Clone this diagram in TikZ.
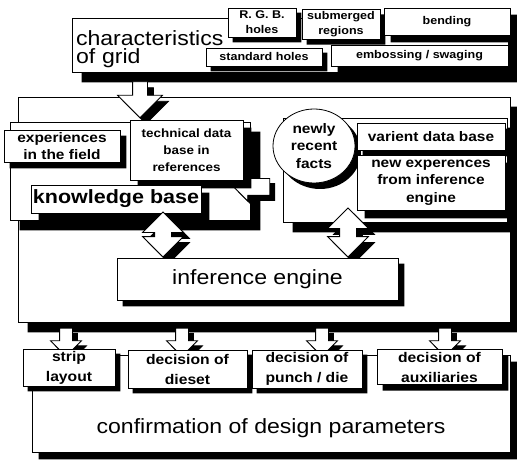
\documentclass[tikz,border=0pt]{standalone}
\usepackage{fontspec}
\setmainfont{Liberation Sans}[FakeStretch=1.12]
\usetikzlibrary{shapes.arrows, shapes.geometric, calc, positioning}

% black L-shaped shadow at the lower right of a box: node/offset
\newcommand\dropshade[2]{%
  \fill ([yshift=-#2]#1.north east) -| ([xshift=#2,yshift=-#2]#1.south east)
        -| ([xshift=#2]#1.south west) -- (#1.south east) -- cycle;}

\begin{document}
\begin{tikzpicture}[x=0.5pt, y=-0.5pt,% one unit = one pixel of the scan
  box/.style = {draw, fill=white, line width=0.4pt, inner sep=1pt,
                align=center},
  ghost/.style = {fill=black, xshift=#1, yshift=-#1},
  tinytext/.style  = {font=\bfseries\fontsize{5.6}{7.5}\selectfont},
  smalltext/.style = {font=\bfseries\fontsize{6.9}{8.8}\selectfont},
  bigtext/.style   = {font=\fontsize{10.3}{9}\selectfont},
  % block arrows: length/head width/shaft width
  downarrow/.style args = {#1/#2/#3}{single arrow, draw, fill=white,
                line width=0.4pt, shape border rotate=270,
                minimum height=#1, inner sep=#3/2,
                single arrow head extend={(#2-#3)/2}},
  leftarrow/.style args = {#1/#2/#3}{downarrow={#1/#2/#3},
                shape border rotate=180},
  twoway/.style args = {#1/#2/#3}{double arrow, draw, fill=white,
                line width=0.4pt, shape border rotate=90,
                minimum height=#1, inner sep=#3/2,
                double arrow head extend={(#2-#3)/2}},
  ]
  \useasboundingbox (0,0) rectangle (517,459);

  % characteristics of grid
  \node[box, bigtext, minimum width=218pt, minimum height=27pt,
        text width=214pt, align=left, inner sep=1.5pt,
        text height=12pt, text depth=11pt] (grid) at (290,45)
       {characteristics\\of grid};
  \dropshade{grid}{5pt}
  \node[box, tinytext, minimum width=34pt, minimum height=14.5pt]
       (rgb) at (262,22.5) {R. G. B.\\holes};
  \dropshade{rgb}{2.5pt}
  \node[box, tinytext, minimum width=39pt, minimum height=14.5pt]
       (submerged) at (341,24.5) {submerged\\regions};
  \dropshade{submerged}{2.5pt}
  \node[box, tinytext, minimum width=63pt, minimum height=13.5pt]
       (bending) at (447,21.5) {bending};
  \dropshade{bending}{3.5pt}
  \node[box, tinytext, minimum width=58pt, minimum height=9pt]
       (standard) at (264,57) {standard holes};
  \dropshade{standard}{2.5pt}
  \node[box, tinytext, minimum width=88.5pt, minimum height=10.5pt]
       (emboss) at (419.5,55.5) {embossing / swaging};
  \dropshade{emboss}{3.5pt}

  % knowledge and facts
  \node[box, minimum width=246pt, minimum height=112.5pt]
       (midbox) at (264,209.5) {};
  \dropshade{midbox}{5pt}
  \node[downarrow={18pt/22pt/7pt}, ghost=3pt] (a1s) at (140,96) {};
  \node[downarrow={18pt/22pt/7pt}] (a1) at (140,96) {};
  \node[box, minimum width=120pt, minimum height=49pt]
       (kbpanel) at (130,171) {};
  \dropshade{kbpanel}{5pt}
  \node[box, minimum width=112pt, minimum height=52pt]
       (factpanel) at (395,170) {};
  \dropshade{factpanel}{5pt}
  \node[leftarrow={18pt/13.5pt/8pt}, ghost=2.5pt] (a2s) at (256,187) {};
  \node[leftarrow={18pt/13.5pt/8pt}] (a2) at (256,187) {};
  \node[box, smalltext, minimum width=58pt, minimum height=16pt]
       (exper) at (62,146) {experiences\\in the field};
  \dropshade{exper}{3pt}
  \node[box, font=\bfseries\fontsize{6}{8.5}\selectfont,
        minimum width=56.5pt, minimum height=30pt]
       (techdb) at (186.5,150) {technical data\\base in\\references};
  \dropshade{techdb}{4pt}
  \node[box, font=\bfseries\fontsize{9.6}{10}\selectfont,
        minimum width=84pt, minimum height=14pt]
       (kb) at (116,199) {knowledge base};
  \dropshade{kb}{4pt}
  \node[ellipse, minimum width=41pt, minimum height=37pt, inner sep=0pt,
        ghost=3pt] (factss) at (314,146) {};
  \node[box, ellipse, smalltext, minimum width=41pt, minimum height=37pt,
        inner sep=0pt] (facts) at (314,146) {newly\\recent\\facts};
  \node[box, smalltext, minimum width=74pt, minimum height=13.5pt]
       (varient) at (431,136.5) {varient data base};
  \dropshade{varient}{3pt}
  \node[box, smalltext, minimum width=74pt, minimum height=27.5pt]
       (newexp) at (431,182.5) {new experences\\from inference\\engine};
  \dropshade{newexp}{4pt}
  \node[twoway={22.5pt/20pt/8pt}, ghost=3pt] (d1s) at (163,234.5) {};
  \node[twoway={22.5pt/20pt/8pt}] (d1) at (163,234.5) {};
  \node[twoway={24.5pt/20pt/8pt}, ghost=3pt] (d2s) at (348,232.5) {};
  \node[twoway={24.5pt/20pt/8pt}] (d2) at (348,232.5) {};
  \node[box, bigtext, minimum width=140.5pt, minimum height=21pt]
       (engine) at (257.5,279) {inference engine};
  \dropshade{engine}{3pt}

  % decisions
  \foreach \x [count=\i] in {66,182,322,445} {
    \node[downarrow={14pt/15pt/6pt}, ghost=2.5pt] (b\i s) at (\x,339) {};
    \node[downarrow={14pt/15pt/6pt}] (b\i) at (\x,339) {};
  }
  \node[box, bigtext, minimum width=239pt, minimum height=48.5pt,
        text height=29.5pt, text depth=0pt] (confirm) at (271,403.5)
       {confirmation of design parameters};
  \dropshade{confirm}{3.5pt}
  \node[box, font=\bfseries\fontsize{7}{10}\selectfont,
        minimum width=46pt, minimum height=17.5pt]
       (strip) at (69,367.5) {strip\\layout};
  \dropshade{strip}{2.5pt}
  \node[box, font=\bfseries\fontsize{7}{10}\selectfont,
        minimum width=59.5pt, minimum height=19pt]
       (dieset) at (187.5,369) {decision of\\dieset};
  \dropshade{dieset}{2.5pt}
  \node[box, font=\bfseries\fontsize{7}{10}\selectfont,
        minimum width=55pt, minimum height=19pt]
       (punch) at (307,369) {decision of\\punch / die};
  \dropshade{punch}{2.5pt}
  \node[box, font=\bfseries\fontsize{7}{10}\selectfont,
        minimum width=62.5pt, minimum height=17pt]
       (aux) at (439.5,367) {decision of\\auxiliaries};
  \dropshade{aux}{3pt}
\end{tikzpicture}
\end{document}
